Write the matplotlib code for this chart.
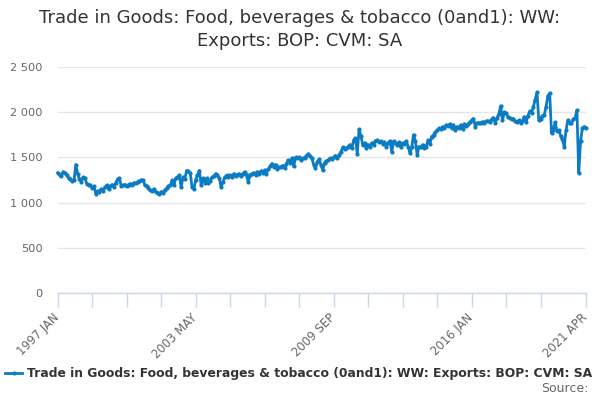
import numpy as np
import matplotlib
matplotlib.use("Agg")
import matplotlib.pyplot as plt
from matplotlib.ticker import FuncFormatter, FixedLocator
from matplotlib.transforms import ScaledTranslation

# Monthly values, 1997 JAN .. 2021 APR (one row per year)
exports = [
    1330, 1310, 1290, 1340, 1330, 1300, 1270, 1260, 1240, 1250, 1420, 1320,  # 1997
    1260, 1230, 1280, 1270, 1210, 1200, 1190, 1160, 1180, 1100, 1130, 1120,  # 1998
    1150, 1130, 1170, 1190, 1150, 1180, 1200, 1170, 1220, 1260, 1270, 1180,  # 1999
    1190, 1200, 1180, 1200, 1210, 1200, 1220, 1215, 1230, 1240, 1250, 1245,  # 2000
    1195, 1180, 1160, 1140, 1130, 1150, 1120, 1110, 1095, 1120, 1110, 1140,  # 2001
    1160, 1180, 1190, 1245, 1190, 1270, 1285, 1300, 1170, 1280, 1260, 1355,  # 2002
    1345, 1330, 1170, 1150, 1250, 1300, 1355, 1200, 1270, 1220, 1270, 1220,  # 2003
    1240, 1280, 1290, 1320, 1300, 1270, 1170, 1230, 1280, 1300, 1280, 1300,  # 2004
    1280, 1320, 1290, 1310, 1320, 1290, 1320, 1340, 1300, 1230, 1310, 1320,  # 2005
    1330, 1310, 1340, 1320, 1350, 1330, 1360, 1320, 1370, 1400, 1430, 1390,  # 2006
    1420, 1370, 1390, 1395, 1410, 1380, 1430, 1470, 1440, 1490, 1400, 1500,  # 2007
    1490, 1500, 1470, 1490, 1490, 1520, 1540, 1520, 1490, 1420, 1380, 1450,  # 2008
    1480, 1420, 1360, 1440, 1460, 1470, 1490, 1480, 1500, 1520, 1490, 1530,  # 2009
    1560, 1610, 1590, 1600, 1620, 1640, 1600, 1690, 1710, 1540, 1810, 1740,  # 2010
    1640, 1660, 1600, 1640, 1620, 1660, 1640, 1680, 1690, 1670, 1680, 1650,  # 2011
    1670, 1620, 1660, 1680, 1560, 1680, 1660, 1640, 1670, 1610, 1660, 1650,  # 2012
    1680, 1620, 1550, 1610, 1750, 1680, 1530, 1620, 1610, 1640, 1600, 1620,  # 2013
    1690, 1650, 1730, 1750, 1780, 1800, 1820, 1810, 1840, 1830, 1860, 1850,  # 2014
    1870, 1820, 1860, 1800, 1840, 1820, 1860, 1810, 1870, 1850, 1870, 1890,  # 2015
    1910, 1930, 1840, 1880, 1885, 1880, 1895, 1885, 1900, 1905, 1890, 1920,  # 2016
    1940, 1880, 1940, 1980, 2070, 1910, 2000, 1990, 1950, 1940, 1920, 1930,  # 2017
    1900, 1890, 1910, 1880, 1900, 1950, 1890, 1960, 2010, 1990, 2060, 2140,  # 2018
    2220, 1910, 1930, 1960, 1970, 2060, 2180, 2210, 1770, 1800, 1890, 1790,  # 2019
    1800, 1740, 1700, 1620, 1800, 1910, 1880, 1880, 1920, 1940, 2020, 1330,  # 2020
    1680, 1820, 1840, 1830,                                                  # 2021
]

label_months = [0, 76, 152, 228, 291]
label_texts = ["1997 JAN", "2003 MAY", "2009 SEP", "2016 JAN", "2021 APR"]

title = "Trade in Goods: Food, beverages & tobacco (0and1): WW:\nExports: BOP: CVM: SA"
series_name = "Trade in Goods: Food, beverages & tobacco (0and1): WW: Exports: BOP: CVM: SA"

line_color = "#0b7cc4"
months = np.arange(len(exports))

fig = plt.figure(figsize=(6, 4), dpi=100)
ax = fig.add_axes([57.7 / 600, 107 / 400, 528.3 / 600, 226 / 400])

ax.plot(months, exports, color=line_color, linewidth=2, marker="o",
        markersize=3, markeredgewidth=0, clip_on=False)

ax.set_xlim(0, len(exports) - 1)
ax.set_ylim(0, 2500)
ax.set_yticks([0, 500, 1000, 1500, 2000, 2500])
ax.yaxis.set_major_formatter(FuncFormatter(lambda v, p: f"{int(v):,}".replace(",", " ")))
ax.grid(axis="y", color="#e6e6e6", linewidth=1)
ax.set_axisbelow(True)

# x ticks every 19 months, labels on a few
tick_pos = list(range(0, 267, 19)) + [len(exports) - 1]
ax.xaxis.set_major_locator(FixedLocator(label_months))
ax.set_xticklabels(label_texts, rotation=45, ha="right", va="top",
                   rotation_mode="anchor")
ax.xaxis.set_minor_locator(FixedLocator(tick_pos))
ax.tick_params(axis="x", which="both", length=10, color="#ccd6eb", width=1,
               labelsize=8.4, labelcolor="#666666", pad=3)
ax.tick_params(axis="y", length=0, labelsize=8.2, labelcolor="#666666", pad=11)

# nudge rotated labels a bit left so they end under the tick
shift = ScaledTranslation(-5 / 100, 0, fig.dpi_scale_trans)
for lab in ax.get_xticklabels():
    lab.set_transform(lab.get_transform() + shift)

for s in ["top", "right", "left"]:
    ax.spines[s].set_visible(False)
ax.spines["bottom"].set_color("#ccd6eb")
ax.spines["bottom"].set_linewidth(1)

fig.text(0.5, 0.978, title, ha="center", va="top", fontsize=13,
         color="#333333", linespacing=1.4)

# legend at bottom
fig.lines.append(plt.Line2D([5 / 600, 22 / 600], [27 / 400, 27 / 400],
                            color=line_color, linewidth=2,
                            transform=fig.transFigure))
fig.lines.append(plt.Line2D([13.5 / 600], [27 / 400], color=line_color,
                            marker="o", markersize=3, markeredgewidth=0,
                            transform=fig.transFigure))
fig.text(27 / 600, 27 / 400, series_name, ha="left", va="center",
         fontsize=8.9, fontweight="bold", color="#333333")
fig.text(588 / 600, 12 / 400, "Source:", ha="right", va="center",
         fontsize=9, color="#666666")

fig.savefig("out.png", dpi=100)
